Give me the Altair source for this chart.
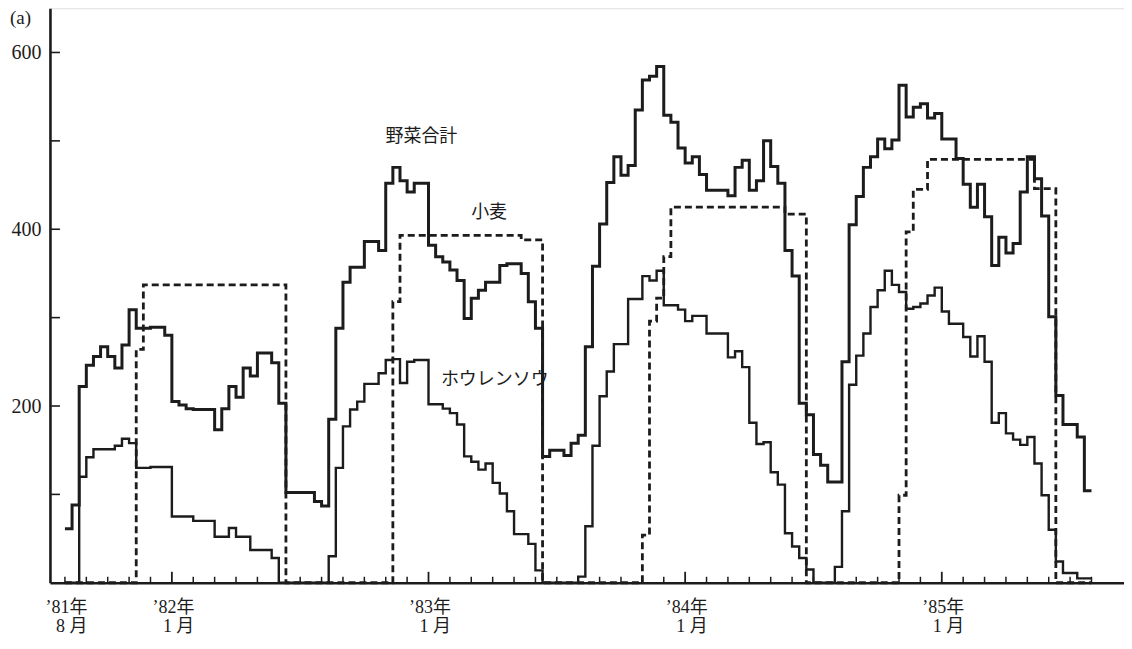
import altair as alt
import pandas as pd

# ---- data: one value per 旬 (10-day period), t = 0 is Aug '81 上旬 ----
veg_total = [61, 88, 222, 246, 256, 267, 256, 243, 269, 309,
             288, 288, 289, 289, 280, 205, 201, 197, 196, 196,
             196, 173, 197, 222, 210, 243, 234, 260, 260, 249,
             203, 102, 102, 102, 102, 92, 87, 185, 288, 340,
             357, 357, 386, 386, 376, 452, 470, 455, 442, 452,
             452, 382, 369, 363, 354, 342, 299, 322, 331, 340,
             340, 359, 361, 361, 350, 318, 288, 143, 150, 150,
             144, 158, 167, 267, 358, 406, 453, 482, 461, 472,
             535, 569, 573, 584, 529, 521, 492, 475, 482, 462,
             444, 444, 444, 438, 470, 478, 444, 455, 500, 471,
             452, 376, 347, 203, 190, 145, 133, 114, 114, 250,
             405, 437, 470, 482, 502, 491, 501, 563, 527, 538,
             542, 526, 531, 502, 502, 480, 451, 425, 451, 414,
             359, 391, 373, 384, 442, 482, 457, 415, 301, 212,
             179, 179, 165, 104]

spinach = [0, 0, 120, 142, 151, 151, 151, 155, 163, 158,
           130, 130, 131, 131, 131, 75, 75, 75, 70, 70,
           70, 52, 52, 62, 52, 52, 37, 37, 37, 28,
           0, 0, 0, 0, 0, 0, 0, 30, 130, 177,
           196, 205, 225, 225, 237, 252, 253, 226, 250, 252,
           252, 202, 202, 197, 192, 179, 143, 137, 128, 135,
           113, 101, 81, 55, 55, 44, 14, 0, 0, 0,
           0, 0, 7, 64, 155, 211, 239, 270, 270, 321,
           321, 347, 342, 353, 314, 314, 309, 296, 302, 302,
           282, 282, 282, 255, 262, 244, 181, 157, 159, 125,
           111, 56, 41, 28, 15, 0, 0, 0, 18, 81,
           224, 257, 282, 312, 331, 353, 337, 329, 310, 312,
           316, 325, 334, 307, 293, 293, 278, 256, 279, 250,
           181, 192, 169, 162, 156, 165, 135, 99, 60, 24,
           11, 11, 5, 5]

wheat = [0, 0, 0, 0, 0, 0, 0, 0, 0, 0,
         264, 337, 337, 337, 337, 337, 337, 337, 337, 337,
         337, 337, 337, 337, 337, 337, 337, 337, 337, 337,
         337, 0, 0, 0, 0, 0, 0, 0, 0, 0,
         0, 0, 0, 0, 0, 0, 318, 393, 393, 393,
         393, 393, 393, 393, 393, 393, 393, 393, 393, 393,
         393, 393, 393, 393, 388, 388, 388, 0, 0, 0,
         0, 0, 0, 0, 0, 0, 0, 0, 0, 0,
         0, 54, 296, 322, 369, 425, 425, 425, 425, 425,
         425, 425, 425, 425, 425, 425, 425, 425, 425, 425,
         425, 417, 417, 417, 0, 0, 0, 0, 0, 0,
         0, 0, 0, 0, 0, 0, 0, 99, 397, 445,
         445, 479, 479, 479, 479, 479, 479, 479, 479, 479,
         479, 479, 479, 479, 479, 479, 446, 446, 446, 0,
         0, 0, 0, 0]

# x-axis labels (t positions of the labelled months)
x_label_t = [0, 15, 51, 87, 123]
x_label_year = ["’81年", "’82年", "’83年", "’84年", "’85年"]
x_label_month = ["8 月", "1 月", "1 月", "1 月", "1 月"]
y_ticks = [100, 200, 300, 400, 500, 600]

# series annotations
ann_text = ["野菜合計", "小麦", "ホウレンソウ"]
ann_t = [50.0, 59.5, 60.3]
ann_v = [504, 418, 229]

INK = "#1c1c1c"
W, H = 1075, 575
X_DOM = [-2.10, 148.56]
Y_DOM = [0, 650]


def series_df(vals):
    rows = [{"t": i, "v": v} for i, v in enumerate(vals)]
    rows.append({"t": len(vals), "v": vals[-1]})
    return pd.DataFrame(rows)


xs = alt.Scale(domain=X_DOM, nice=False, zero=False)
ys = alt.Scale(domain=Y_DOM, nice=False)

label_expr = " : ".join(
    f"datum.value == {t} ? ['{y}', '{m}']" for t, y, m in zip(x_label_t, x_label_year, x_label_month)
) + " : ''"

x_axis = alt.Axis(values=x_label_t, labelExpr=label_expr, ticks=False, grid=False,
                  domain=True, domainColor=INK, domainWidth=2.6, title=None,
                  labelFont="Liberation Serif, Noto Sans CJK JP", labelFontSize=18,
                  labelColor=INK, labelAlign="right", labelOffset=22,
                  labelBaseline="top", labelPadding=16, labelLineHeight=19,
                  labelFlush=False, labelOverlap=False)
y_axis = alt.Axis(values=[200, 400, 600], ticks=False, grid=False, domain=True,
                  domainColor=INK, domainWidth=2.6, title=None,
                  labelFont="Liberation Serif", labelFontSize=20, labelColor=INK,
                  labelPadding=9)

veg_line = alt.Chart(series_df(veg_total)).mark_line(
    interpolate="step-after", color=INK, strokeWidth=3.0
).encode(x=alt.X("t:Q", scale=xs, axis=x_axis), y=alt.Y("v:Q", scale=ys, axis=y_axis))

spin_line = alt.Chart(series_df(spinach)).mark_line(
    interpolate="step-after", color=INK, strokeWidth=2.4
).encode(x=alt.X("t:Q", scale=xs), y=alt.Y("v:Q", scale=ys))

wheat_line = alt.Chart(series_df(wheat)).mark_line(
    interpolate="step-after", color=INK, strokeWidth=2.8, strokeDash=[7, 4]
).encode(x=alt.X("t:Q", scale=xs), y=alt.Y("v:Q", scale=ys))

# month ticks pointing into the plot
month_t = list(range(0, 147, 3))
tick_df = pd.DataFrame({"t": month_t, "jan": [t in x_label_t[1:] for t in month_t]})
x_ticks_small = alt.Chart(tick_df).transform_filter("!datum.jan").mark_rule(
    color=INK, strokeWidth=1.5
).encode(x=alt.X("t:Q", scale=xs), y=alt.value(H), y2=alt.value(H - 6))
x_ticks_big = alt.Chart(tick_df).transform_filter("datum.jan").mark_rule(
    color=INK, strokeWidth=1.8
).encode(x=alt.X("t:Q", scale=xs), y=alt.value(H), y2=alt.value(H - 11))

y_tick_rules = alt.Chart(pd.DataFrame({"v": y_ticks})).mark_rule(
    color=INK, strokeWidth=1.6
).encode(y=alt.Y("v:Q", scale=ys), x=alt.value(0), x2=alt.value(10))

ann = alt.Chart(pd.DataFrame({"t": ann_t, "v": ann_v, "text": ann_text})).mark_text(
    font="Noto Sans CJK JP", fontSize=18, color=INK, align="center", baseline="middle"
).encode(x=alt.X("t:Q", scale=xs), y=alt.Y("v:Q", scale=ys), text="text:N")

panel_tag = alt.Chart(pd.DataFrame({"text": ["(a)"]})).mark_text(
    font="Liberation Serif", fontSize=19, color=INK, align="left", baseline="top"
).encode(x=alt.value(-40), y=alt.value(1), text="text:N")

chart = alt.layer(
    x_ticks_small, x_ticks_big, y_tick_rules, wheat_line, spin_line, veg_line, ann, panel_tag
).properties(
    width=W, height=H,
    autosize=alt.AutoSizeParams(type="none"),
    padding={"left": 42, "top": 0, "right": 0, "bottom": 66},
).configure_view(stroke=None).configure(background="white")

chart.save("out.html", embed_options={"renderer": "svg", "actions": False})
